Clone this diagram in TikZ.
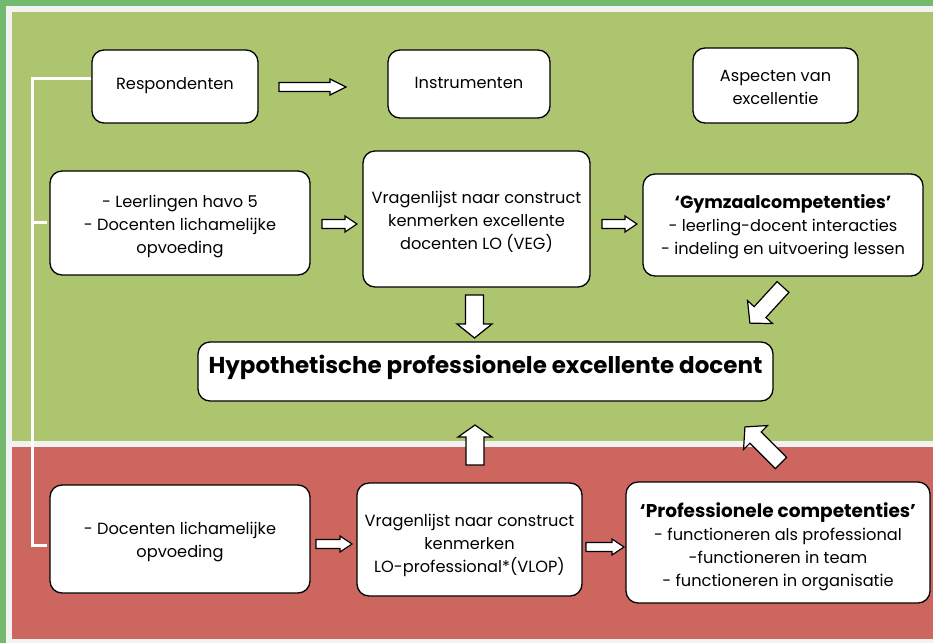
\documentclass[tikz,border=0pt]{standalone}
\usepackage{fontspec}
\setmainfont{Poppins}[BoldFont=* Bold]
\definecolor{outergreen}{HTML}{75B96F}
\definecolor{olive}{HTML}{AEC56F}
\definecolor{brick}{HTML}{CD665F}
\definecolor{lightband}{HTML}{F2F2F2}
\newcommand\barrow[6]{% tail, angle, length, shaft half, head half, head length
\begin{scope}[shift={#1}, rotate=#2]
\draw[blockarr] (0,-#4) -- ({#3-#6},-#4) -- ({#3-#6},-#5) -- (#3,0) -- ({#3-#6},#5) -- ({#3-#6},#4) -- (0,#4) -- cycle;
\end{scope}}
\newcommand\boxhead[2]{{\fontsize{#1}{23}\selectfont\bfseries #2}}
\begin{document}
\begin{tikzpicture}[x=1pt,y=-1pt,
  box/.style={draw=black, line width=1.3pt, fill=white, rounded corners=12pt, inner sep=0pt},
  boxtext/.style={align=center, font=\fontsize{16.2}{23}\selectfont, inner sep=0pt},
  blockarr/.style={draw=black, line width=1.2pt, fill=white, line join=miter},
  bracket/.style={draw=white, line width=3pt}]
\useasboundingbox (0,0) rectangle (933,643);
% backgrounds
\fill[outergreen] (0,0) rectangle (933,643);
\fill[lightband] (6,6) rectangle (933,643);
\fill[olive] (12,12) rectangle (933,441);
\fill[brick] (12,447) rectangle (933,639);
% boxes
\node[box, minimum width=166pt, minimum height=73pt] (resp) at (175,86.5) {};
\node[boxtext] (resp-t) at ([yshift=1pt]resp.center) {Respondenten};
\node[box, minimum width=162pt, minimum height=68pt] (instr) at (469,84) {};
\node[boxtext] (instr-t) at ([yshift=1pt]instr.center) {Instrumenten};
\node[box, minimum width=165pt, minimum height=75pt] (asp) at (775.5,85.5) {};
\node[boxtext] (asp-t) at ([yshift=-2pt]asp.center) {Aspecten van\\excellentie};
\node[box, minimum width=260pt, minimum height=104pt] (leer) at (180,223) {};
\node[boxtext] (leer-t) at ([yshift=-4pt]leer.center) {- Leerlingen havo 5\\- Docenten lichamelijke\\opvoeding};
\node[box, minimum width=227pt, minimum height=136pt] (veg) at (476.5,219) {};
\node[boxtext] (veg-t) at ([yshift=-2.5pt]veg.center) {Vragenlijst naar construct\\kenmerken excellente\\docenten LO (VEG)};
\node[box, minimum width=280pt, minimum height=102pt] (gym) at (783,225) {};
\node[boxtext] (gym-t) at ([yshift=-2pt]gym.center) {\boxhead{17.5}{‘Gymzaalcompetenties’}\\- leerling-docent interacties\\- indeling en uitvoering lessen};
\node[box, minimum width=575pt, minimum height=59pt] (main) at (485.5,371.5) {};
\node[font=\fontsize{23}{28}\selectfont\bfseries, inner sep=0pt] (main-t) at (485.5,367) {Hypothetische professionele excellente docent};
\node[box, minimum width=260pt, minimum height=108pt] (doc) at (180,539) {};
\node[boxtext] (doc-t) at ([yshift=-3.5pt]doc.center) {- Docenten lichamelijke\\opvoeding};
\node[box, minimum width=225pt, minimum height=113pt] (vlop) at (469.5,539.5) {};
\node[boxtext] (vlop-t) at ([yshift=-5.5pt]vlop.center) {Vragenlijst naar construct\\kenmerken\\LO-professional*(VLOP)};
\node[box, minimum width=304pt, minimum height=121pt] (prof) at (778,542.5) {};
\node[boxtext] (prof-t) at ([yshift=-4pt]prof.center) {\boxhead{18.5}{‘Professionele competenties’}\\- functioneren als professional\\-functioneren in team\\- functioneren in organisatie};
% bracket
\coordinate (b1) at (32,222);
\coordinate (b2) at (47,222);
\coordinate (b3) at (47,545);
\draw[bracket] (resp.west |- 0,78) -- (32,78) -- (32,545) -- (b3);
\draw[bracket] (b1) -- (b2);
% block arrows
\barrow{(279,87)}{0}{67}{4.5}{8}{16}
\barrow{(322,224)}{0}{35}{4.5}{8}{12}
\barrow{(602,224)}{0}{35}{4.5}{8}{12}
\barrow{(316,544)}{0}{36}{4.5}{8}{12}
\barrow{(586,547)}{0}{38}{4.5}{8}{12}
\barrow{(474.5,295)}{-90}{43}{9}{17.5}{14}
\barrow{(475,465)}{90}{40}{9}{17}{12}
\barrow{(783,287)}{-132.5}{49}{8}{17}{15}
\barrow{(781,463)}{135}{51}{8}{17}{15}
\end{tikzpicture}
\end{document}
